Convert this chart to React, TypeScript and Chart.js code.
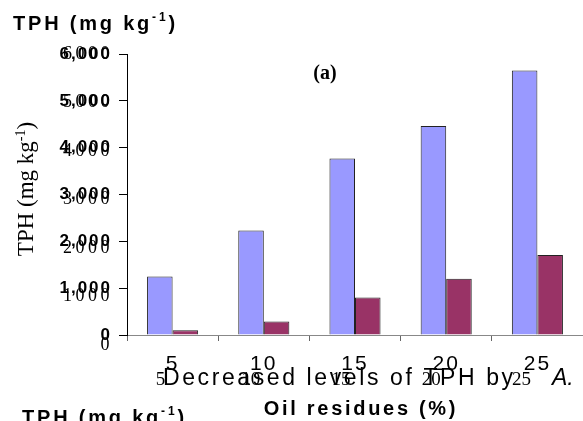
import { useEffect, useRef } from "react";
import { Chart, registerables } from "chart.js";

Chart.register(...registerables);

const categories = ["5", "10", "15", "20", "25"];
const beforeValues = [1250, 2230, 3770, 4460, 5650];
const afterValues = [100, 290, 800, 1200, 1710];
const yTickValues = [0, 1000, 2000, 3000, 4000, 5000, 6000];
const panelLabel = "(a)";
const unitMain = "TPH (mg kg";
const unitSup = "-1";
const unitClose = ")";
const captionText = "Decreased levels of TPH by";
const captionItalic = "A.";
const xTitle = "Oil residues (%)";

const SANS = "'Liberation Sans', Arial, sans-serif";
const SERIF = "'Liberation Serif', 'Times New Roman', serif";

function drawSupText(
  ctx: CanvasRenderingContext2D,
  x: number,
  y: number,
  mainFont: string,
  supFont: string,
  supRise: number
) {
  ctx.font = mainFont;
  ctx.fillText(unitMain, x, y);
  let cx = x + ctx.measureText(unitMain).width;
  ctx.font = supFont;
  ctx.fillText(unitSup, cx, y - supRise);
  cx += ctx.measureText(unitSup).width;
  ctx.font = mainFont;
  ctx.fillText(unitClose, cx, y);
}

function measureSup(ctx: CanvasRenderingContext2D, mainFont: string, supFont: string) {
  ctx.font = mainFont;
  let w = ctx.measureText(unitMain).width + ctx.measureText(unitClose).width;
  ctx.font = supFont;
  w += ctx.measureText(unitSup).width;
  return w;
}

const overlay = {
  id: "overlay",
  beforeDraw(chart: any) {
    (chart.ctx as any).letterSpacing = "2px";
  },
  beforeDatasetsDraw(chart: any) {
    (chart.ctx as any).letterSpacing = "0px";
  },
  afterDraw(chart: any) {
    const ctx: CanvasRenderingContext2D = chart.ctx;
    const xs = chart.scales.x;
    const ys = chart.scales.y;
    ctx.save();
    ctx.fillStyle = "#000";

    // serif duplicate y tick labels
    (ctx as any).letterSpacing = "3.5px";
    ctx.font = `18px ${SERIF}`;
    ctx.textAlign = "right";
    ctx.textBaseline = "middle";
    yTickValues.forEach((v) => {
      const py = ys.getPixelForValue(v) + ((6000 - v) / 6000) * 10;
      ctx.fillText(String(v), 113, py);
    });
    (ctx as any).letterSpacing = "0px";

    // serif duplicate x tick labels
    ctx.font = `19px ${SERIF}`;
    ctx.textAlign = "center";
    ctx.textBaseline = "alphabetic";
    categories.forEach((c, i) => {
      ctx.fillText(c, xs.getPixelForTick(i) - 12 - i, 385);
    });

    // caption line
    ctx.textAlign = "left";
    (ctx as any).letterSpacing = "2.6px";
    ctx.font = `23px ${SANS}`;
    ctx.fillText(captionText, 163, 385);
    (ctx as any).letterSpacing = "0px";
    ctx.font = `italic 23px ${SANS}`;
    ctx.fillText(captionItalic, 552, 385);

    // x title
    (ctx as any).letterSpacing = "2.7px";
    ctx.font = `bold 20px ${SANS}`;
    ctx.textAlign = "center";
    ctx.fillText(xTitle, 361, 415);

    // top-left and bottom-left unit titles
    ctx.textAlign = "left";
    (ctx as any).letterSpacing = "2.8px";
    drawSupText(ctx, 13, 30, `bold 20px ${SANS}`, `bold 12px ${SANS}`, 9);
    drawSupText(ctx, 22, 424, `bold 20px ${SANS}`, `bold 12px ${SANS}`, 9);
    (ctx as any).letterSpacing = "0px";

    // panel label
    ctx.font = `bold 20px ${SERIF}`;
    ctx.textAlign = "center";
    ctx.fillText(panelLabel, 325, 79);

    // rotated y title
    ctx.save();
    ctx.translate(33, 189);
    ctx.rotate(-Math.PI / 2);
    ctx.textAlign = "left";
    const mf = `23px ${SERIF}`;
    const sf = `14px ${SERIF}`;
    const w = measureSup(ctx, mf, sf);
    drawSupText(ctx, -w / 2, 0, mf, sf, 8);
    ctx.restore();

    ctx.restore();
  },
};

export default function App() {
  const ref = useRef<HTMLCanvasElement | null>(null);
  useEffect(() => {
    if (!ref.current) return;
    const chart = new Chart(ref.current, {
      type: "bar",
      data: {
        labels: categories,
        datasets: [
          {
            data: beforeValues,
            backgroundColor: "#9999FF",
            borderColor: "#222222",
            borderWidth: 1,
            categoryPercentage: 0.56,
            barPercentage: 1,
          },
          {
            data: afterValues,
            backgroundColor: "#993366",
            borderColor: "#222222",
            borderWidth: 1,
            categoryPercentage: 0.56,
            barPercentage: 1,
          },
        ],
      },
      options: {
        animation: false,
        responsive: true,
        maintainAspectRatio: false,
        layout: { padding: { top: 54, left: 0, right: 0, bottom: 0 } },
        plugins: {
          legend: { display: false },
          tooltip: { enabled: false },
          title: { display: false },
        },
        scales: {
          x: {
            offset: true,
            grid: {
              display: true,
              drawOnChartArea: false,
              drawTicks: true,
              tickLength: 6,
              color: "#666666",
              offset: true,
            },
            border: { display: true, color: "#888888", width: 1 },
            ticks: {
              font: { family: SANS, size: 21 },
              color: "#000",
              padding: 11,
              maxRotation: 0,
              autoSkip: false,
            },
            afterFit: (s: any) => {
              s.height = 86;
            },
          },
          y: {
            min: 0,
            max: 6000,
            ticks: {
              stepSize: 1000,
              font: { family: SANS, size: 17, weight: "bold" },
              color: "#000",
              padding: 7,
            },
            grid: { drawOnChartArea: false, tickLength: 8, color: "#000" },
            border: { display: true, color: "#000", width: 1 },
            afterFit: (s: any) => {
              s.width = 127;
            },
          },
        },
      },
      plugins: [overlay],
    });
    return () => chart.destroy();
  }, []);
  return (
    <div
      style={{
        position: "fixed",
        left: 0,
        top: 0,
        width: 583,
        height: 421,
        background: "#fff",
      }}
    >
      <canvas ref={ref} />
    </div>
  );
}
